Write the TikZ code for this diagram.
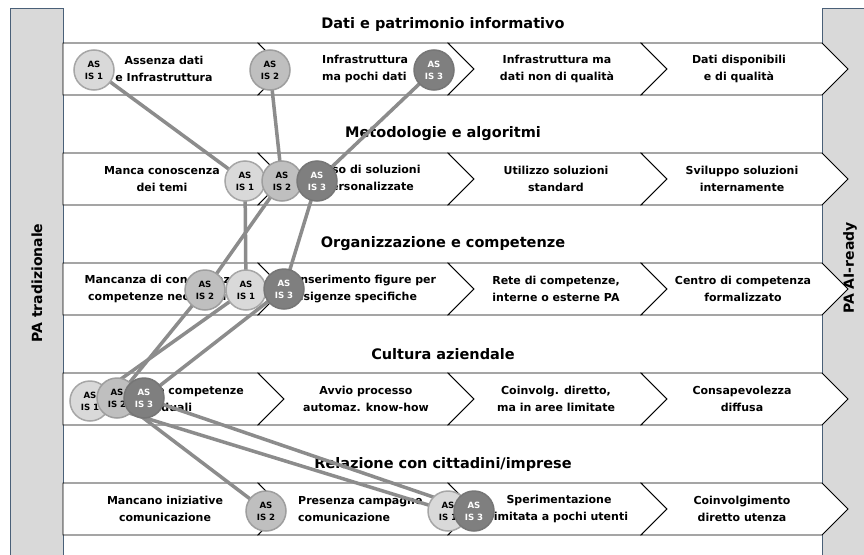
\documentclass[tikz,border=0pt]{standalone}
\usepackage{fontspec}
\setmainfont{DejaVu Sans}
\pgfdeclarelayer{bg}
\pgfdeclarelayer{ln}
\pgfsetlayers{bg,ln,main}
\definecolor{barfill}{HTML}{D9D9D9}
\definecolor{barline}{HTML}{4A6078}
\definecolor{fa}{HTML}{D9D9D9}
\definecolor{da}{HTML}{A6A6A6}
\definecolor{fb}{HTML}{BFBFBF}
\definecolor{db}{HTML}{9E9E9E}
\definecolor{fc}{HTML}{7F7F7F}
\definecolor{dc}{HTML}{767676}
\definecolor{connc}{HTML}{8C8C8C}
\begin{document}
\begin{tikzpicture}[x=1pt,y=-1pt,
  bar/.style={fill=barfill,draw=barline,line width=1pt},
  vlabel/.style={rotate=90,font=\fontsize{14}{16}\selectfont\bfseries},
  chev/.style={fill=white,draw=black,line width=0.8pt},
  title/.style={font=\fontsize{14.5}{17}\selectfont\bfseries},
  ctext/.style={font=\fontsize{11}{16.5}\selectfont\bfseries,align=center,inner sep=0pt},
  ltext/.style={ctext,align=left,anchor=west},
  circ/.style={circle,minimum size=40pt,inner sep=0pt,line width=1.5pt,align=center,
    font=\fontsize{8.6}{12}\selectfont\bfseries},
  isa/.style={circ,fill=fa,draw=da},
  isb/.style={circ,fill=fb,draw=db},
  isc/.style={circ,fill=fc,draw=dc,text=white},
  conn/.style={draw=connc,line width=3.5pt}]
\useasboundingbox (0,0) rectangle (864,554);
\begin{pgfonlayer}{bg}
\fill[white] (0,0) rectangle (864,554);
\draw[bar] (10,8) rectangle (63,562);
\draw[bar] (822,8) rectangle (872,562);
\node[vlabel] (lt) at (37,283) {PA tradizionale};
\node[vlabel] (rt) at (850,268) {PA AI-ready};
\foreach \yt in {43,153,263,373,483}{
  \pgfmathsetmacro\ybot{\yt+52}
  \pgfmathsetmacro\ymid{\yt+26}
  \draw[chev] (63,\yt) -- (258,\yt) -- (284,\ymid) -- (258,\ybot) -- (63,\ybot) -- cycle;
  \draw[chev] (258,\yt) -- (448,\yt) -- (474,\ymid) -- (448,\ybot) -- (258,\ybot) -- (284,\ymid) -- cycle;
  \draw[chev] (448,\yt) -- (641,\yt) -- (667,\ymid) -- (641,\ybot) -- (448,\ybot) -- (474,\ymid) -- cycle;
  \draw[chev] (641,\yt) -- (822,\yt) -- (848,\ymid) -- (822,\ybot) -- (641,\ybot) -- (667,\ymid) -- cycle;
}
% titles
\node[title] (t1) at (443,24) {Dati e patrimonio informativo};
\node[title] (t2) at (443,134) {Metodologie e algoritmi};
\node[title] (t3) at (443,244) {Organizzazione e competenze};
\node[title] (t4) at (443,354) {Cultura aziendale};
\node[title] (t5) at (443,464) {Relazione con cittadini/imprese};
% row 1
\node[ctext] (c11) at (164,69) {Assenza dati\\e Infrastruttura};
\node[ltext] (c12) at (322,69) {Infrastruttura\\ma pochi dati};
\node[ctext] (c13) at (557,69) {Infrastruttura ma\\dati non di qualità};
\node[ctext] (c14) at (739,69) {Dati disponibili\\e di qualità};
% row 2
\node[ctext] (c21) at (162,179) {Manca conoscenza\\dei temi};
\node[ltext] (c22) at (323,179) {Uso di soluzioni\\personalizzate};
\node[ctext] (c23) at (556,179) {Utilizzo soluzioni\\standard};
\node[ctext] (c24) at (742,179) {Sviluppo soluzioni\\internamente};
% row 3
\node[ctext] (c31) at (161,289) {Mancanza di conoscenze\\competenze necessarie};
\node[ltext] (c32) at (296,289) {Inserimento figure per\\esigenze specifiche};
\node[ctext] (c33) at (556,289) {Rete di competenze,\\interne o esterne PA};
\node[ctext] (c34) at (743,289) {Centro di competenza\\formalizzato};
% row 4
\node[ltext] (c41) at (127,399) {Poche competenze\\individuali};
\node[ctext] (c42) at (366,399) {Avvio processo\\automaz. know-how};
\node[ctext] (c43) at (556,399) {Coinvolg. diretto,\\ma in aree limitate};
\node[ctext] (c44) at (742,399) {Consapevolezza\\diffusa};
% row 5
\node[ctext] (c51) at (165,509) {Mancano iniziative\\comunicazione};
\node[ltext] (c52) at (298,509) {Presenza campagne\\comunicazione};
\node[ctext] (c53) at (559,509) {Sperimentazione\\limitata a pochi utenti};
\node[ctext] (c54) at (742,509) {Coinvolgimento\\diretto utenza};
\end{pgfonlayer}
% circles: AS IS 1
\node[isa] (a1) at (94,70) {AS\\IS 1};
\node[isa] (a2) at (245,181) {AS\\IS 1};
\node[isa] (a3) at (246,290) {AS\\IS 1};
\node[isa] (a4) at (90,401) {AS\\IS 1};
\node[isa] (a5) at (448,511) {AS\\IS 1};
% AS IS 2
\node[isb] (b1) at (270,70) {AS\\IS 2};
\node[isb] (b2) at (282,181) {AS\\IS 2};
\node[isb] (b3) at (205,290) {AS\\IS 2};
\node[isb] (b4) at (117,398) {AS\\IS 2};
\node[isb] (b5) at (266,511) {AS\\IS 2};
% AS IS 3
\node[isc] (d1) at (434,70) {AS\\IS 3};
\node[isc] (d2) at (317,181) {AS\\IS 3};
\node[isc] (d3) at (284,289) {AS\\IS 3};
\node[isc] (d4) at (144,398) {AS\\IS 3};
\node[isc] (d5) at (474,511) {AS\\IS 3};
\begin{pgfonlayer}{ln}
\draw[conn] (a1.center) -- (a2.center) -- (a3.center) -- (a4.center) -- (a5.center);
\draw[conn] (b1.center) -- (b2.center) -- (b3.center) -- (b4.center) -- (b5.center);
\draw[conn] (d1.center) -- (d2.center) -- (d3.center) -- (d4.center) -- (d5.center);
\end{pgfonlayer}
\end{tikzpicture}
\end{document}
